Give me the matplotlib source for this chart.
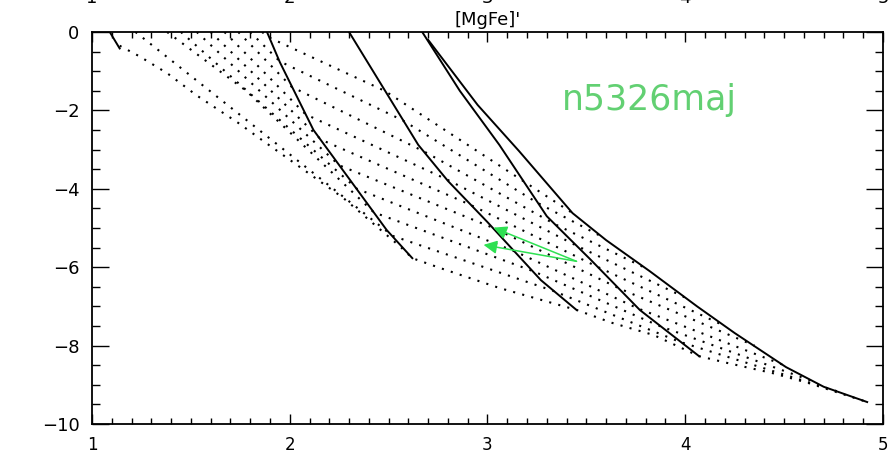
import matplotlib
matplotlib.use("Agg")
import matplotlib.pyplot as plt

# solid tracks (x = [MgFe]', y = index)
s0_x = [1.09, 1.14]
s0_y = [0.0, -0.42]
s1_x = [1.885, 1.95, 2.12, 2.49, 2.62]
s1_y = [0.0, -0.77, -2.5, -5.05, -5.77]
s2_x = [2.30, 2.65, 2.80, 3.00, 3.27, 3.45]
s2_y = [0.0, -2.88, -3.80, -4.85, -6.33, -7.09]
s3_x = [2.67, 2.86, 3.06, 3.30, 3.52, 3.77, 4.07]
s3_y = [0.0, -1.50, -2.88, -4.70, -5.80, -7.09, -8.27]
s4_x = [2.70, 2.95, 3.16, 3.43, 3.60, 3.82, 4.06, 4.25, 4.51, 4.70, 4.92]
s4_y = [-0.20, -1.86, -3.04, -4.62, -5.31, -6.10, -7.00, -7.68, -8.55, -9.05, -9.44]

# dotted tracks
dot_x = [
    [1.14, 1.24, 1.38, 1.53, 1.74, 1.88, 2.27, 2.56, 2.62, 2.76, 3.06, 3.45,
     3.63, 3.84, 4.07, 4.21, 4.44, 4.62, 4.92],
    [1.22, 2.52, 3.33, 3.97, 4.79],
    [1.38, 1.78, 2.425, 3.23, 3.87, 4.64],
    [1.45, 2.34, 3.14, 3.76, 4.50],
    [1.53, 2.25, 3.03, 3.67, 4.35],
    [1.60, 2.16, 2.91, 3.56, 4.20],
    [1.67, 2.08, 2.79, 3.45, 4.01],
    [1.74, 2.01, 2.68, 3.34, 3.79],
    [1.80, 1.95, 2.57, 3.25, 3.57],
    [1.86, 1.90, 2.48, 3.18, 3.43],
]
dot_y = [
    [-0.35, -0.62, -1.05, -1.62, -2.32, -2.83, -4.23, -5.48, -5.77, -6.02, -6.53,
     -7.09, -7.42, -7.73, -8.27, -8.44, -8.70, -8.95, -9.44],
    [0.0, -5.2, -6.6, -7.9, -9.2],
    [0.0, -1.5, -4.6, -6.1, -7.5, -8.9],
    [0.0, -4.0, -5.6, -7.05, -8.5],
    [0.0, -3.4, -5.0, -6.55, -8.0],
    [0.0, -2.75, -4.4, -6.0, -7.5],
    [0.0, -2.1, -3.75, -5.45, -6.8],
    [0.0, -1.4, -3.05, -4.9, -6.0],
    [0.0, -0.75, -2.25, -4.35, -5.2],
    [0.0, -0.15, -1.5, -3.8, -4.62],
]

# galaxy gradient arrows
arrow_tail = (3.45, -5.85)
arrow_heads = [(3.03, -4.99), (2.98, -5.43)]
galaxy = "n5326maj"

fig = plt.figure(figsize=(8.93, 4.54), dpi=100)
ax = fig.add_axes([0.1030, 0.0661, 0.8858, 0.8634])

for xs, ys in zip(dot_x, dot_y):
    ax.plot(xs, ys, color="black", lw=1.5, linestyle=(0, (1, 3.5)))

for xs, ys in [(s0_x, s0_y), (s1_x, s1_y), (s2_x, s2_y), (s3_x, s3_y), (s4_x, s4_y)]:
    ax.plot(xs, ys, color="black", lw=1.4)

for hx, hy in arrow_heads:
    ax.annotate("", xy=(hx, hy), xytext=arrow_tail,
                arrowprops=dict(arrowstyle="-|>", color="#2ee052", lw=1.1,
                                mutation_scale=20, shrinkA=0, shrinkB=0))

ax.text(3.82, -1.73, galaxy, color="#62d072", fontsize=25,
        ha="center", va="center")

ax.set_xlim(1, 5)
ax.set_ylim(-10, 0)
ax.set_xticks([1, 2, 3, 4, 5])
ax.set_yticks([0, -2, -4, -6, -8, -10])
ax.set_xticks([1 + i * 0.1 for i in range(41)], minor=True)
ax.set_yticks([-i * 0.5 for i in range(21)], minor=True)

ax.tick_params(axis="x", which="major", direction="in", length=7, width=1,
               top=True, labelsize=12, pad=9)
ax.tick_params(axis="x", which="minor", direction="in", length=4, width=1, top=True)
ax.tick_params(axis="y", which="major", direction="in", length=12, width=1,
               right=True, labelsize=13, pad=9)
ax.tick_params(axis="y", which="minor", direction="in", length=6, width=1, right=True)

for sp in ax.spines.values():
    sp.set_linewidth(1.3)

# top labels sit high and get cut by the figure edge
sec = ax.secondary_xaxis("top")
sec.set_xticks([1, 2, 3, 4, 5])
sec.tick_params(length=0, labelsize=13, pad=18)
sec.spines["top"].set_visible(False)

ax.text(3.0, 0.08, "[MgFe]'", ha="center", va="bottom", fontsize=13)

fig.savefig("out.png", dpi=100)
